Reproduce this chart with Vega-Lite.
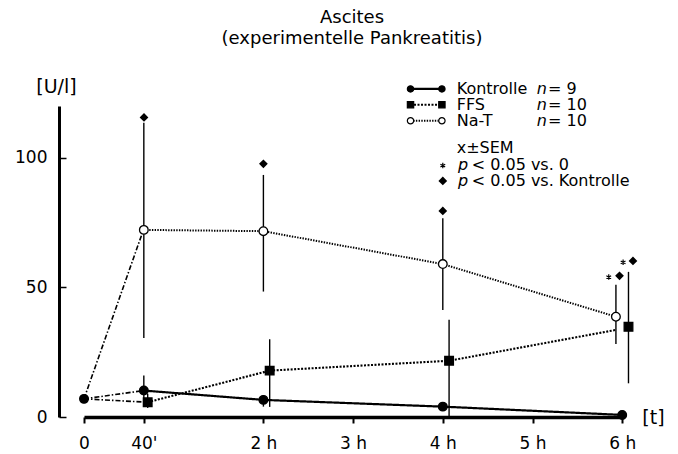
{
  "$schema": "https://vega.github.io/schema/vega-lite/v6.json",
  "autosize": {"type": "none"},
  "width": 540,
  "height": 311,
  "padding": {"left": 84, "top": 106, "right": 54, "bottom": 37},
  "background": "white",
  "config": {
    "view": {"stroke": null},
    "font": "DejaVu Sans",
    "text": {"font": "DejaVu Sans", "color": "black"}
  },
  "title": {
    "text": "Ascites",
    "subtitle": "(experimentelle Pankreatitis)",
    "font": "DejaVu Sans",
    "subtitleFont": "DejaVu Sans",
    "fontSize": 18,
    "subtitleFontSize": 18,
    "fontWeight": "normal",
    "color": "black",
    "subtitleColor": "black",
    "anchor": "middle",
    "frame": "group",
    "dx": -2,
    "offset": 29,
    "subtitlePadding": 3
  },
  "datasets": {
    "course": [
      {"series": "Kontrolle", "t": 0.667, "v": 10.2},
      {"series": "Kontrolle", "t": 2, "v": 6.6},
      {"series": "Kontrolle", "t": 4, "v": 4.0},
      {"series": "Kontrolle", "t": 6, "v": 0.8},
      {"series": "FFS", "t": 0.71, "v": 5.7},
      {"series": "FFS", "t": 2.07, "v": 17.9},
      {"series": "FFS", "t": 4.07, "v": 21.7},
      {"series": "FFS", "t": 5.93, "v": 33.6},
      {"series": "Na-T", "t": 0.667, "v": 72.2},
      {"series": "Na-T", "t": 2, "v": 71.7},
      {"series": "Na-T", "t": 4, "v": 59.0},
      {"series": "Na-T", "t": 5.93, "v": 38.7}
    ],
    "onset": [
      {"series": "Kontrolle", "t": 0, "v": 7},
      {"series": "Kontrolle", "t": 0.667, "v": 10.2},
      {"series": "FFS", "t": 0, "v": 7},
      {"series": "FFS", "t": 0.71, "v": 5.7},
      {"series": "Na-T", "t": 0, "v": 7},
      {"series": "Na-T", "t": 0.64, "v": 70}
    ],
    "points": [
      {"series": "Start", "t": 0, "v": 7},
      {"series": "Kontrolle", "t": 0.667, "v": 10.2},
      {"series": "Kontrolle", "t": 2, "v": 6.6},
      {"series": "Kontrolle", "t": 4, "v": 4.0},
      {"series": "Kontrolle", "t": 6, "v": 0.8},
      {"series": "FFS", "t": 0.71, "v": 5.7},
      {"series": "FFS", "t": 2.07, "v": 17.9},
      {"series": "FFS", "t": 4.07, "v": 21.7},
      {"series": "FFS", "t": 6.07, "v": 34.8},
      {"series": "Na-T", "t": 0.667, "v": 72.2},
      {"series": "Na-T", "t": 2, "v": 71.7},
      {"series": "Na-T", "t": 4, "v": 59.0},
      {"series": "Na-T", "t": 5.93, "v": 38.7}
    ],
    "errors": [
      {"series": "Kontrolle", "t": 0.667, "lo": 4.5, "hi": 16},
      {"series": "Kontrolle", "t": 2, "lo": 4, "hi": 8.5},
      {"series": "FFS", "t": 0.71, "lo": 3.5, "hi": 9},
      {"series": "FFS", "t": 2.07, "lo": 3.9, "hi": 30},
      {"series": "FFS", "t": 4.07, "lo": 0, "hi": 37.5},
      {"series": "FFS", "t": 6.07, "lo": 13, "hi": 56},
      {"series": "Na-T", "t": 0.667, "lo": 30.5, "hi": 113.5},
      {"series": "Na-T", "t": 2, "lo": 48.4, "hi": 93.4},
      {"series": "Na-T", "t": 4, "lo": 41.3, "hi": 76.7},
      {"series": "Na-T", "t": 5.93, "lo": 28.2, "hi": 51}
    ],
    "diamonds": [
      {"t": 0.669, "v": 115.6},
      {"t": 2, "v": 97.7},
      {"t": 4, "v": 79.5},
      {"t": 5.97, "v": 54.5},
      {"t": 6.12, "v": 60.2},
      {"t": 4.0, "v": 91.1}
    ],
    "stars": [
      {"t": 5.85, "v": 54.0},
      {"t": 6.01, "v": 59.7},
      {"t": 4.0, "v": 97.0}
    ],
    "legendLines": [
      {"series": "Kontrolle", "t": 3.64, "v": 126.6},
      {"series": "Kontrolle", "t": 3.99, "v": 126.6},
      {"series": "FFS", "t": 3.64, "v": 120.5},
      {"series": "FFS", "t": 3.99, "v": 120.5},
      {"series": "Na-T", "t": 3.64, "v": 114.3},
      {"series": "Na-T", "t": 3.99, "v": 114.3}
    ],
    "legendText": [
      {"label": "Kontrolle", "t": 4.155, "v": 126.6},
      {"label": "FFS", "t": 4.155, "v": 120.5},
      {"label": "Na-T", "t": 4.155, "v": 114.3},
      {"label": "= 9", "t": 5.173, "v": 126.6},
      {"label": "= 10", "t": 5.173, "v": 120.5},
      {"label": "= 10", "t": 5.173, "v": 114.3},
      {"label": "x±SEM", "t": 4.155, "v": 103.9},
      {"label": "< 0.05 vs. 0", "t": 4.322, "v": 97.3},
      {"label": "< 0.05 vs. Kontrolle", "t": 4.322, "v": 91.1}
    ],
    "legendItalic": [
      {"label": "n", "t": 5.046, "v": 126.6},
      {"label": "n", "t": 5.046, "v": 120.5},
      {"label": "n", "t": 5.046, "v": 114.3},
      {"label": "p", "t": 4.17, "v": 97.3},
      {"label": "p", "t": 4.17, "v": 91.1}
    ]
  },
  "encoding": {
    "x": {
      "field": "t",
      "type": "quantitative",
      "scale": {"domain": [0, 6.02], "nice": false, "zero": false},
      "axis": {
        "values": [0, 0.6667, 2, 3, 4, 5, 6],
        "labelExpr": "datum.value == 0 ? '0' : (datum.value < 1 ? \"40'\" : datum.value + ' h')",
        "grid": false,
        "domainColor": "black",
        "domainWidth": 3.5,
        "tickColor": "black",
        "tickWidth": 2,
        "tickSize": 6,
        "labelFont": "DejaVu Sans",
        "labelFontSize": 17,
        "labelColor": "black",
        "labelPadding": 12,
        "labelFlush": false,
        "title": "[t]",
        "titleFont": "DejaVu Sans",
        "titleFontSize": 19,
        "titleFontWeight": "normal",
        "titleColor": "black",
        "titleX": 569,
        "titleY": 0,
        "titleAlign": "center",
        "titleBaseline": "middle"
      }
    },
    "y": {
      "field": "v",
      "type": "quantitative",
      "scale": {"domain": [0, 120], "nice": false},
      "axis": {
        "values": [0, 50, 100],
        "offset": 25,
        "grid": false,
        "domainColor": "black",
        "domainWidth": 3,
        "tickColor": "black",
        "tickWidth": 1.5,
        "tickSize": -7,
        "labelFont": "DejaVu Sans",
        "labelFontSize": 17,
        "labelColor": "black",
        "labelPadding": 19,
        "title": "[U/l]",
        "titleFont": "DejaVu Sans",
        "titleFontSize": 19,
        "titleFontWeight": "normal",
        "titleColor": "black",
        "titleAngle": 0,
        "titleX": -3,
        "titleY": -20,
        "titleAlign": "center",
        "titleBaseline": "middle"
      }
    }
  },
  "layer": [
    {
      "data": {"name": "errors"},
      "mark": {"type": "rule", "color": "black", "strokeWidth": 1.4},
      "encoding": {"y": {"field": "lo", "type": "quantitative"}, "y2": {"field": "hi"}}
    },
    {
      "data": {"name": "onset"},
      "mark": {"type": "line", "color": "black", "strokeWidth": 1.6, "strokeDash": [5, 2, 1.5, 2]},
      "encoding": {"detail": {"field": "series"}}
    },
    {
      "data": {"name": "course"},
      "mark": {"type": "line", "color": "black"},
      "encoding": {
        "detail": {"field": "series"},
        "strokeDash": {"field": "series", "type": "nominal", "scale": {"domain": ["Kontrolle", "FFS", "Na-T"], "range": [[1, 0], [2, 1.5], [1.4, 1.3]]}, "legend": null},
        "strokeWidth": {"field": "series", "type": "nominal", "scale": {"domain": ["Kontrolle", "FFS", "Na-T"], "range": [2.2, 2, 4.5]}, "legend": null}
      }
    },
    {
      "data": {"name": "legendLines"},
      "mark": {"type": "line", "color": "black"},
      "encoding": {
        "detail": {"field": "series"},
        "strokeDash": {"field": "series", "type": "nominal", "scale": {"domain": ["Kontrolle", "FFS", "Na-T"], "range": [[1, 0], [2, 1.5], [1.4, 1.3]]}, "legend": null},
        "strokeWidth": {"field": "series", "type": "nominal", "scale": {"domain": ["Kontrolle", "FFS", "Na-T"], "range": [2.2, 2, 4]}, "legend": null}
      }
    },
    {
      "data": {"name": "points"},
      "mark": {"type": "point", "stroke": "black", "strokeWidth": 1.3, "opacity": 1, "size": 75},
      "encoding": {
        "shape": {"field": "series", "type": "nominal", "scale": {"domain": ["Start", "Kontrolle", "FFS", "Na-T"], "range": ["circle", "circle", "square", "circle"]}, "legend": null},
        "fill": {"field": "series", "type": "nominal", "scale": {"domain": ["Start", "Kontrolle", "FFS", "Na-T"], "range": ["black", "black", "black", "white"]}, "legend": null}
      }
    },
    {
      "data": {"name": "legendLines"},
      "mark": {"type": "point", "stroke": "black", "strokeWidth": 1.2, "opacity": 1, "size": 40},
      "encoding": {
        "shape": {"field": "series", "type": "nominal", "scale": {"domain": ["Start", "Kontrolle", "FFS", "Na-T"], "range": ["circle", "circle", "square", "circle"]}, "legend": null},
        "fill": {"field": "series", "type": "nominal", "scale": {"domain": ["Start", "Kontrolle", "FFS", "Na-T"], "range": ["black", "black", "black", "white"]}, "legend": null}
      }
    },
    {
      "data": {"name": "diamonds"},
      "mark": {"type": "point", "shape": "diamond", "filled": true, "fill": "black", "stroke": "black", "opacity": 1, "size": 35}
    },
    {
      "data": {"name": "stars"},
      "mark": {"type": "point", "shape": "M0,-1L0,1M-0.87,-0.5L0.87,0.5M-0.87,0.5L0.87,-0.5", "filled": false, "stroke": "black", "strokeWidth": 1.2, "opacity": 1, "size": 30}
    },
    {
      "data": {"name": "legendText"},
      "mark": {"type": "text", "fontSize": 16, "align": "left", "baseline": "middle", "fill": "black"},
      "encoding": {"text": {"field": "label"}}
    },
    {
      "data": {"name": "legendItalic"},
      "mark": {"type": "text", "fontSize": 16, "fontStyle": "italic", "align": "left", "baseline": "middle", "fill": "black"},
      "encoding": {"text": {"field": "label"}}
    }
  ]
}
